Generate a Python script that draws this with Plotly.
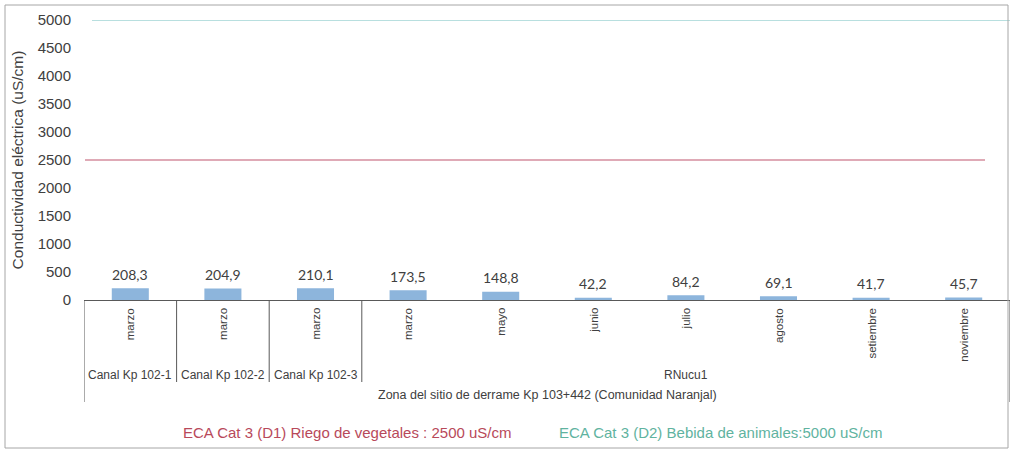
import plotly.graph_objects as go

months = ["marzo", "marzo", "marzo", "marzo", "mayo", "junio", "julio", "agosto", "setiembre", "noviembre"]
values = [208.3, 204.9, 210.1, 173.5, 148.8, 42.2, 84.2, 69.1, 41.7, 45.7]
site_labels = ["Canal Kp 102-1", "Canal Kp 102-2", "Canal Kp 102-3", "RNucu1"]
site_spans = [(0, 0), (1, 1), (2, 2), (3, 9)]
zone_label = "Zona del sitio de derrame Kp 103+442 (Comunidad Naranjal)"
eca_d1 = 2500
eca_d2 = 5000
eca_d1_label = "ECA Cat 3 (D1) Riego de vegetales : 2500 uS/cm"
eca_d2_label = "ECA Cat 3 (D2) Bebida de animales:5000 uS/cm"
y_title = "Conductividad eléctrica (uS/cm)"
y_ticks = list(range(0, 5001, 500))

# layout geometry (pixels)
W, H = 1014, 453
L, R, T, B = 84, 4, 20, 153
plot_h = H - T - B

def py(pix):
    return (H - B - pix) / plot_h

def px(pix):
    return (pix - L) / (W - L - R)

x_idx = list(range(len(values)))
txt_color = "#404040"
red = "#c0566e"
teal = "#72c0bf"
leg_red = "#b8495a"
leg_teal = "#5fb3a0"
font_main = "Liberation Sans, Arial, sans-serif"

fig = go.Figure()
fig.add_trace(go.Bar(
    x=x_idx, y=values, width=0.4,
    marker=dict(color="#8db5dc", line=dict(width=0)),
    showlegend=False, hoverinfo="y",
))

shapes = []
shapes.append(dict(type="line", xref="paper", yref="y", x0=px(85), x1=px(985), y0=eca_d1, y1=eca_d1,
                   line=dict(color=red, width=1.2)))
shapes.append(dict(type="line", xref="paper", yref="y", x0=px(92), x1=1.0, y0=eca_d2, y1=eca_d2,
                   line=dict(color=teal, width=1.2)))
div_col = "#595959"
shapes.append(dict(type="line", xref="x", yref="paper", x0=-0.5, x1=-0.5, y0=0, y1=py(402),
                   line=dict(color=div_col, width=1)))
shapes.append(dict(type="line", xref="x", yref="paper", x0=9.5, x1=9.5, y0=0, y1=py(402),
                   line=dict(color=div_col, width=1)))
for s, e in site_spans[:-1]:
    shapes.append(dict(type="line", xref="x", yref="paper", x0=e + 0.5, x1=e + 0.5, y0=0, y1=py(382),
                       line=dict(color=div_col, width=1)))
shapes.append(dict(type="rect", xref="paper", yref="paper", x0=px(5), x1=px(1008), y0=py(448), y1=py(5),
                   line=dict(color="#a6a6a6", width=1)))

annotations = []
for i, v in zip(x_idx, values):
    annotations.append(dict(x=i, y=v, xref="x", yref="y", text=f"{v:.1f}".replace(".", ","),
                            showarrow=False, xanchor="center", yanchor="middle", yshift=14,
                            font=dict(family="Lato, sans-serif", size=14, color=txt_color)))
for i, m in enumerate(months):
    annotations.append(dict(x=i, y=py(306), xref="x", yref="paper", text=m, textangle=-90,
                            showarrow=False, xanchor="center", yanchor="top",
                            font=dict(family=font_main, size=11.5, color=txt_color)))
for lab, (s, e) in zip(site_labels, site_spans):
    annotations.append(dict(x=(s + e) / 2, y=py(375), xref="x", yref="paper", text=lab,
                            showarrow=False, xanchor="center", yanchor="middle",
                            font=dict(family=font_main, size=12, color=txt_color)))
annotations.append(dict(x=4.5, y=py(395), xref="x", yref="paper", text=zone_label,
                        showarrow=False, xanchor="center", yanchor="middle",
                        font=dict(family=font_main, size=12.5, color=txt_color)))
annotations.append(dict(x=px(347), y=py(432), xref="paper", yref="paper", text=eca_d1_label,
                        showarrow=False, xanchor="center", yanchor="middle",
                        font=dict(family=font_main, size=15, color=leg_red)))
annotations.append(dict(x=px(721), y=py(432), xref="paper", yref="paper", text=eca_d2_label,
                        showarrow=False, xanchor="center", yanchor="middle",
                        font=dict(family=font_main, size=15, color=leg_teal)))

fig.update_layout(
    width=W, height=H,
    margin=dict(l=L, r=R, t=T, b=B, pad=0, autoexpand=False),
    paper_bgcolor="white", plot_bgcolor="white",
    separators=",.",
    shapes=shapes, annotations=annotations,
    showlegend=False,
    xaxis=dict(range=[-0.5, 9.5], showticklabels=False, ticks="", showgrid=False, zeroline=False,
               showline=True, linecolor="#595959", linewidth=1, fixedrange=True),
    yaxis=dict(range=[0, 5000], tickvals=y_ticks, showgrid=False, zeroline=False, showline=False,
               ticks="", ticklabelstandoff=12,
               tickfont=dict(family=font_main, size=15, color=txt_color),
               title=dict(text=y_title, standoff=10, font=dict(family=font_main, size=15.5, color=txt_color)),
               automargin=False, fixedrange=True),
)

fig.write_html("out.html", config={"displayModeBar": False},
               post_script="document.body.style.margin='0';document.body.style.overflow='hidden';")
